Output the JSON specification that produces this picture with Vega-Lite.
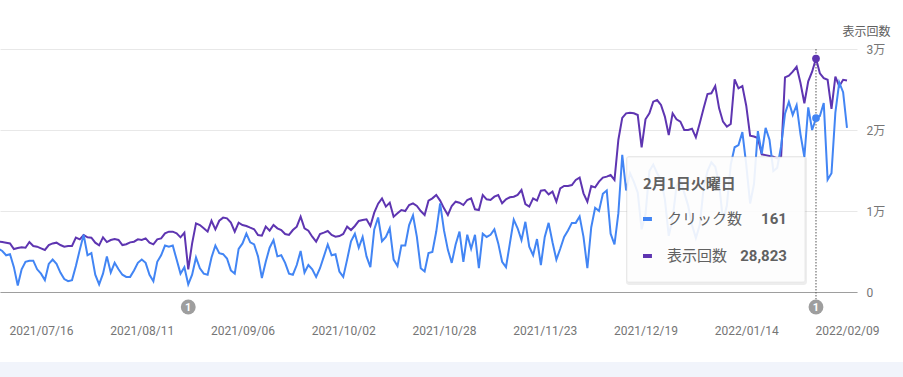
{
  "$schema": "https://vega.github.io/schema/vega-lite/v6.json",
  "width": 857,
  "height": 243,
  "autosize": {"type": "none"},
  "padding": {"left": 0, "top": 49, "right": 46, "bottom": 85},
  "background": "#ffffff",
  "config": {
    "view": {"stroke": null},
    "font": "Roboto",
    "axisX": {"grid": false, "ticks": false, "domain": true, "domainColor": "#9e9e9e", "domainWidth": 1, "labelColor": "#757575", "labelFontSize": 12, "labelFont": "Roboto", "labelPadding": 33, "labelOverlap": false, "labelFlush": false}
  },
  "datasets": {
    "series": [
      {"date":"2021-07-05","clicks":40,"impressions":6210},
      {"date":"2021-07-06","clicks":38,"impressions":6170},
      {"date":"2021-07-07","clicks":34,"impressions":6090},
      {"date":"2021-07-08","clicks":35,"impressions":6000},
      {"date":"2021-07-09","clicks":23,"impressions":5310},
      {"date":"2021-07-10","clicks":6,"impressions":5430},
      {"date":"2021-07-11","clicks":21,"impressions":5510},
      {"date":"2021-07-12","clicks":28,"impressions":5470},
      {"date":"2021-07-13","clicks":29,"impressions":6170},
      {"date":"2021-07-14","clicks":29,"impressions":5680},
      {"date":"2021-07-15","clicks":21,"impressions":5600},
      {"date":"2021-07-16","clicks":17,"impressions":5390},
      {"date":"2021-07-17","clicks":11,"impressions":5190},
      {"date":"2021-07-18","clicks":26,"impressions":5800},
      {"date":"2021-07-19","clicks":30,"impressions":6000},
      {"date":"2021-07-20","clicks":26,"impressions":6090},
      {"date":"2021-07-21","clicks":18,"impressions":5800},
      {"date":"2021-07-22","clicks":12,"impressions":5600},
      {"date":"2021-07-23","clicks":10,"impressions":5680},
      {"date":"2021-07-24","clicks":11,"impressions":5680},
      {"date":"2021-07-25","clicks":24,"impressions":6710},
      {"date":"2021-07-26","clicks":39,"impressions":6500},
      {"date":"2021-07-27","clicks":53,"impressions":7040},
      {"date":"2021-07-28","clicks":34,"impressions":6750},
      {"date":"2021-07-29","clicks":36,"impressions":6710},
      {"date":"2021-07-30","clicks":16,"impressions":6090},
      {"date":"2021-07-31","clicks":7,"impressions":5760},
      {"date":"2021-08-01","clicks":17,"impressions":6750},
      {"date":"2021-08-02","clicks":33,"impressions":6170},
      {"date":"2021-08-03","clicks":18,"impressions":6420},
      {"date":"2021-08-04","clicks":27,"impressions":6540},
      {"date":"2021-08-05","clicks":21,"impressions":6420},
      {"date":"2021-08-06","clicks":16,"impressions":5800},
      {"date":"2021-08-07","clicks":14,"impressions":5900},
      {"date":"2021-08-08","clicks":14,"impressions":6130},
      {"date":"2021-08-09","clicks":20,"impressions":6210},
      {"date":"2021-08-10","clicks":27,"impressions":6500},
      {"date":"2021-08-11","clicks":30,"impressions":6420},
      {"date":"2021-08-12","clicks":27,"impressions":6620},
      {"date":"2021-08-13","clicks":16,"impressions":6090},
      {"date":"2021-08-14","clicks":10,"impressions":5880},
      {"date":"2021-08-15","clicks":28,"impressions":6500},
      {"date":"2021-08-16","clicks":34,"impressions":6620},
      {"date":"2021-08-17","clicks":43,"impressions":7240},
      {"date":"2021-08-18","clicks":42,"impressions":7450},
      {"date":"2021-08-19","clicks":43,"impressions":7450},
      {"date":"2021-08-20","clicks":30,"impressions":7240},
      {"date":"2021-08-21","clicks":17,"impressions":6750},
      {"date":"2021-08-22","clicks":23,"impressions":7330},
      {"date":"2021-08-23","clicks":7,"impressions":2800},
      {"date":"2021-08-24","clicks":16,"impressions":6000},
      {"date":"2021-08-25","clicks":32,"impressions":8480},
      {"date":"2021-08-26","clicks":22,"impressions":8270},
      {"date":"2021-08-27","clicks":17,"impressions":7860},
      {"date":"2021-08-28","clicks":16,"impressions":7450},
      {"date":"2021-08-29","clicks":32,"impressions":8800},
      {"date":"2021-08-30","clicks":43,"impressions":7740},
      {"date":"2021-08-31","clicks":36,"impressions":8800},
      {"date":"2021-09-01","clicks":35,"impressions":9180},
      {"date":"2021-09-02","clicks":31,"impressions":9090},
      {"date":"2021-09-03","clicks":20,"impressions":8560},
      {"date":"2021-09-04","clicks":17,"impressions":7450},
      {"date":"2021-09-05","clicks":40,"impressions":8560},
      {"date":"2021-09-06","clicks":45,"impressions":8270},
      {"date":"2021-09-07","clicks":54,"impressions":8150},
      {"date":"2021-09-08","clicks":46,"impressions":7940},
      {"date":"2021-09-09","clicks":44,"impressions":7750},
      {"date":"2021-09-10","clicks":33,"impressions":7040},
      {"date":"2021-09-11","clicks":13,"impressions":6950},
      {"date":"2021-09-12","clicks":28,"impressions":8070},
      {"date":"2021-09-13","clicks":41,"impressions":7570},
      {"date":"2021-09-14","clicks":48,"impressions":8270},
      {"date":"2021-09-15","clicks":33,"impressions":7860},
      {"date":"2021-09-16","clicks":34,"impressions":7650},
      {"date":"2021-09-17","clicks":27,"impressions":7160},
      {"date":"2021-09-18","clicks":17,"impressions":7040},
      {"date":"2021-09-19","clicks":16,"impressions":7650},
      {"date":"2021-09-20","clicks":25,"impressions":8070},
      {"date":"2021-09-21","clicks":38,"impressions":9300},
      {"date":"2021-09-22","clicks":18,"impressions":7860},
      {"date":"2021-09-23","clicks":25,"impressions":7570},
      {"date":"2021-09-24","clicks":21,"impressions":6830},
      {"date":"2021-09-25","clicks":14,"impressions":6210},
      {"date":"2021-09-26","clicks":22,"impressions":7160},
      {"date":"2021-09-27","clicks":33,"impressions":7330},
      {"date":"2021-09-28","clicks":44,"impressions":7530},
      {"date":"2021-09-29","clicks":34,"impressions":7040},
      {"date":"2021-09-30","clicks":35,"impressions":6830},
      {"date":"2021-10-01","clicks":19,"impressions":6910},
      {"date":"2021-10-02","clicks":14,"impressions":7160},
      {"date":"2021-10-03","clicks":30,"impressions":8070},
      {"date":"2021-10-04","clicks":47,"impressions":7650},
      {"date":"2021-10-05","clicks":54,"impressions":8150},
      {"date":"2021-10-06","clicks":41,"impressions":8770},
      {"date":"2021-10-07","clicks":51,"impressions":8890},
      {"date":"2021-10-08","clicks":33,"impressions":8970},
      {"date":"2021-10-09","clicks":23,"impressions":8150},
      {"date":"2021-10-10","clicks":58,"impressions":9800},
      {"date":"2021-10-11","clicks":69,"impressions":10900},
      {"date":"2021-10-12","clicks":47,"impressions":11560},
      {"date":"2021-10-13","clicks":51,"impressions":10540},
      {"date":"2021-10-14","clicks":59,"impressions":11030},
      {"date":"2021-10-15","clicks":30,"impressions":9300},
      {"date":"2021-10-16","clicks":24,"impressions":9710},
      {"date":"2021-10-17","clicks":43,"impressions":10120},
      {"date":"2021-10-18","clicks":43,"impressions":10000},
      {"date":"2021-10-19","clicks":62,"impressions":10740},
      {"date":"2021-10-20","clicks":71,"impressions":10950},
      {"date":"2021-10-21","clicks":51,"impressions":10620},
      {"date":"2021-10-22","clicks":22,"impressions":10000},
      {"date":"2021-10-23","clicks":19,"impressions":9510},
      {"date":"2021-10-24","clicks":36,"impressions":11280},
      {"date":"2021-10-25","clicks":37,"impressions":11560},
      {"date":"2021-10-26","clicks":56,"impressions":11980},
      {"date":"2021-10-27","clicks":82,"impressions":11280},
      {"date":"2021-10-28","clicks":57,"impressions":10330},
      {"date":"2021-10-29","clicks":39,"impressions":9510},
      {"date":"2021-10-30","clicks":27,"impressions":10620},
      {"date":"2021-10-31","clicks":44,"impressions":11150},
      {"date":"2021-11-01","clicks":56,"impressions":11030},
      {"date":"2021-11-02","clicks":28,"impressions":10740},
      {"date":"2021-11-03","clicks":53,"impressions":11360},
      {"date":"2021-11-04","clicks":40,"impressions":11560},
      {"date":"2021-11-05","clicks":53,"impressions":10210},
      {"date":"2021-11-06","clicks":22,"impressions":10120},
      {"date":"2021-11-07","clicks":54,"impressions":11980},
      {"date":"2021-11-08","clicks":51,"impressions":11440},
      {"date":"2021-11-09","clicks":53,"impressions":11360},
      {"date":"2021-11-10","clicks":58,"impressions":11770},
      {"date":"2021-11-11","clicks":45,"impressions":11980},
      {"date":"2021-11-12","clicks":28,"impressions":10950},
      {"date":"2021-11-13","clicks":23,"impressions":11440},
      {"date":"2021-11-14","clicks":45,"impressions":11690},
      {"date":"2021-11-15","clicks":67,"impressions":11770},
      {"date":"2021-11-16","clicks":59,"impressions":11980},
      {"date":"2021-11-17","clicks":48,"impressions":12590},
      {"date":"2021-11-18","clicks":65,"impressions":10860},
      {"date":"2021-11-19","clicks":42,"impressions":10540},
      {"date":"2021-11-20","clicks":34,"impressions":11560},
      {"date":"2021-11-21","clicks":49,"impressions":11280},
      {"date":"2021-11-22","clicks":25,"impressions":12510},
      {"date":"2021-11-23","clicks":51,"impressions":12590},
      {"date":"2021-11-24","clicks":64,"impressions":12060},
      {"date":"2021-11-25","clicks":46,"impressions":12390},
      {"date":"2021-11-26","clicks":30,"impressions":11150},
      {"date":"2021-11-27","clicks":40,"impressions":12800},
      {"date":"2021-11-28","clicks":51,"impressions":13090},
      {"date":"2021-11-29","clicks":57,"impressions":13090},
      {"date":"2021-11-30","clicks":64,"impressions":13210},
      {"date":"2021-12-01","clicks":64,"impressions":13830},
      {"date":"2021-12-02","clicks":70,"impressions":14120},
      {"date":"2021-12-03","clicks":51,"impressions":12180},
      {"date":"2021-12-04","clicks":22,"impressions":11150},
      {"date":"2021-12-05","clicks":60,"impressions":13090},
      {"date":"2021-12-06","clicks":78,"impressions":12920},
      {"date":"2021-12-07","clicks":75,"impressions":13620},
      {"date":"2021-12-08","clicks":91,"impressions":14120},
      {"date":"2021-12-09","clicks":94,"impressions":14240},
      {"date":"2021-12-10","clicks":54,"impressions":14440},
      {"date":"2021-12-11","clicks":44,"impressions":13830},
      {"date":"2021-12-12","clicks":73,"impressions":18800},
      {"date":"2021-12-13","clicks":127,"impressions":21500},
      {"date":"2021-12-14","clicks":94,"impressions":22060},
      {"date":"2021-12-15","clicks":110,"impressions":22140},
      {"date":"2021-12-16","clicks":102,"impressions":22060},
      {"date":"2021-12-17","clicks":92,"impressions":21850},
      {"date":"2021-12-18","clicks":58,"impressions":17860},
      {"date":"2021-12-19","clicks":72,"impressions":21320},
      {"date":"2021-12-20","clicks":112,"impressions":22060},
      {"date":"2021-12-21","clicks":118,"impressions":23500},
      {"date":"2021-12-22","clicks":110,"impressions":23700},
      {"date":"2021-12-23","clicks":104,"impressions":23090},
      {"date":"2021-12-24","clicks":86,"impressions":21650},
      {"date":"2021-12-25","clicks":52,"impressions":19380},
      {"date":"2021-12-26","clicks":68,"impressions":22060},
      {"date":"2021-12-27","clicks":98,"impressions":21320},
      {"date":"2021-12-28","clicks":104,"impressions":21030},
      {"date":"2021-12-29","clicks":92,"impressions":20000},
      {"date":"2021-12-30","clicks":80,"impressions":20000},
      {"date":"2021-12-31","clicks":62,"impressions":20160},
      {"date":"2022-01-01","clicks":50,"impressions":19090},
      {"date":"2022-01-02","clicks":62,"impressions":20820},
      {"date":"2022-01-03","clicks":96,"impressions":22670},
      {"date":"2022-01-04","clicks":112,"impressions":24440},
      {"date":"2022-01-05","clicks":120,"impressions":24530},
      {"date":"2022-01-06","clicks":116,"impressions":25430},
      {"date":"2022-01-07","clicks":100,"impressions":22670},
      {"date":"2022-01-08","clicks":66,"impressions":21030},
      {"date":"2022-01-09","clicks":80,"impressions":20410},
      {"date":"2022-01-10","clicks":118,"impressions":20740},
      {"date":"2022-01-11","clicks":134,"impressions":26260},
      {"date":"2022-01-12","clicks":136,"impressions":25140},
      {"date":"2022-01-13","clicks":148,"impressions":25430},
      {"date":"2022-01-14","clicks":118,"impressions":23000},
      {"date":"2022-01-15","clicks":82,"impressions":19300},
      {"date":"2022-01-16","clicks":100,"impressions":19200},
      {"date":"2022-01-17","clicks":149,"impressions":19000},
      {"date":"2022-01-18","clicks":128,"impressions":17000},
      {"date":"2022-01-19","clicks":152,"impressions":16900},
      {"date":"2022-01-20","clicks":141,"impressions":16800},
      {"date":"2022-01-21","clicks":112,"impressions":16700},
      {"date":"2022-01-22","clicks":115,"impressions":16500},
      {"date":"2022-01-23","clicks":135,"impressions":16700},
      {"date":"2022-01-24","clicks":165,"impressions":26500},
      {"date":"2022-01-25","clicks":176,"impressions":26700},
      {"date":"2022-01-26","clicks":164,"impressions":27200},
      {"date":"2022-01-27","clicks":173,"impressions":27800},
      {"date":"2022-01-28","clicks":146,"impressions":25800},
      {"date":"2022-01-29","clicks":125,"impressions":23300},
      {"date":"2022-01-30","clicks":171,"impressions":26000},
      {"date":"2022-01-31","clicks":150,"impressions":27200},
      {"date":"2022-02-01","clicks":161,"impressions":28823},
      {"date":"2022-02-02","clicks":163,"impressions":27000},
      {"date":"2022-02-03","clicks":175,"impressions":26400},
      {"date":"2022-02-04","clicks":104,"impressions":26200},
      {"date":"2022-02-05","clicks":110,"impressions":22600},
      {"date":"2022-02-06","clicks":166,"impressions":26600},
      {"date":"2022-02-07","clicks":194,"impressions":25400},
      {"date":"2022-02-08","clicks":185,"impressions":26200},
      {"date":"2022-02-09","clicks":152,"impressions":26100}
    ],
    "hover": [
      {"date":"2022-02-01","label":"2月1日火曜日","clicks":161,"impressions":28823}
    ],
    "notes": [
      {"date":"2021-08-23","note":"1"},
      {"date":"2022-02-01","note":"1"}
    ]
  },
  "resolve": {"scale": {"y": "independent"}},
  "layer": [
    {
      "data": {"name": "series"},
      "mark": {"type": "line", "color": "#5e35b1", "strokeWidth": 2, "clip": true},
      "encoding": {
        "x": {
          "field": "date", "type": "temporal", "title": null,
          "scale": {"type":"utc","domain":[1625479200000,1644588000000]},
          "axis": {
            "title": null, "format": "%Y/%m/%d",
            "values": [1626393600000,1628640000000,1630886400000,1633132800000,1635379200000,1637625600000,1639872000000,1642118400000,1644364800000],
            "grid": false, "ticks": false, "domain": true,
            "domainColor": "#9e9e9e", "domainWidth": 1,
            "labelColor": "#757575", "labelFontSize": 12, "labelFont": "Roboto",
            "labelPadding": 33, "labelOverlap": false, "labelFlush": false
          }
        },
        "y": {
          "field": "impressions", "type": "quantitative",
          "scale": {"domain": [0, 30000], "nice": false},
          "axis": {
            "orient": "right", "values": [0, 10000, 20000, 30000],
            "labelExpr": "datum.value == 0 ? '0' : (datum.value / 10000) + '万'",
            "grid": true, "gridColor": "#e8e8e8", "ticks": false, "domain": false,
            "labelColor": "#757575", "labelFontSize": 12, "labelFont": "Roboto, Noto Sans CJK JP",
            "labelPadding": 9, "labelAlign": "left",
            "title": "表示回数", "titleAngle": 0, "titleX": 9, "titleY": -18,
            "titleAlign": "center", "titleBaseline": "middle",
            "titleFontWeight": "normal", "titleFontSize": 12, "titleColor": "#616161",
            "titleFont": "Noto Sans CJK JP"
          }
        }
      }
    },
    {
      "data": {"name": "hover"},
      "mark": {"type": "rect", "color": "#f1f4fb"},
      "encoding": {
        "x": {"datum": 1622505600000, "type": "temporal", "title": null},
        "x2": {"datum": 1647302400000},
        "y": {"datum": -8640, "type": "quantitative", "scale": {"domain": [0, 30000], "nice": false}, "axis": null},
        "y2": {"datum": -12000}
      }
    },
    {
      "data": {"name": "series"},
      "mark": {"type": "line", "color": "#4285f4", "strokeWidth": 2, "clip": true},
      "encoding": {
        "x": {"field": "date", "type": "temporal", "title": null},
        "y": {"field": "clicks", "type": "quantitative", "scale": {"domain": [0, 225], "nice": false}, "axis": null}
      }
    },
    {
      "data": {"name": "hover"},
      "mark": {"type": "rule", "color": "#555555", "strokeWidth": 1, "strokeDash": [1.5, 1.5]},
      "encoding": {
        "x": {"field": "date", "type": "temporal", "title": null},
        "y": {"datum": 30000, "type": "quantitative", "scale": {"domain": [0, 30000], "nice": false}, "axis": null},
        "y2": {"datum": -900}
      }
    },
    {
      "data": {"name": "hover"},
      "mark": {"type": "rect", "color": "#000000", "opacity": 0.07, "cornerRadius": 3},
      "encoding": {
        "x": {"datum": 1639436400000, "type": "temporal", "title": null},
        "x2": {"datum": 1643472000000},
        "y": {"datum": 16790, "type": "quantitative", "scale": {"domain": [0, 30000], "nice": false}, "axis": null},
        "y2": {"datum": 860}
      }
    },
    {
      "data": {"name": "hover"},
      "mark": {"type": "rect", "color": "#ffffff", "opacity": 0.9, "cornerRadius": 2, "stroke": "#e3e3e3", "strokeWidth": 0.6},
      "encoding": {
        "x": {"datum": 1639459020000, "type": "temporal", "title": null},
        "x2": {"datum": 1643427360000},
        "y": {"datum": 16667, "type": "quantitative", "scale": {"domain": [0, 30000], "nice": false}, "axis": null},
        "y2": {"datum": 1235}
      }
    },
    {
      "data": {"name": "hover"},
      "mark": {"type": "text", "align": "left", "baseline": "middle", "font": "Noto Sans CJK JP", "fontSize": 15, "fontWeight": "bold", "color": "#616161"},
      "encoding": {
        "x": {"datum": 1639815840000, "type": "temporal", "title": null},
        "y": {"datum": 13333, "type": "quantitative", "scale": {"domain": [0, 30000], "nice": false}, "axis": null},
        "text": {"field": "label"}
      }
    },
    {
      "data": {"name": "hover"},
      "mark": {"type": "rule", "color": "#4285f4", "strokeWidth": 4},
      "encoding": {
        "x": {"datum": 1639815840000, "type": "temporal", "title": null},
        "x2": {"datum": 1640016000000},
        "y": {"datum": 9012, "type": "quantitative", "scale": {"domain": [0, 30000], "nice": false}, "axis": null}
      }
    },
    {
      "data": {"name": "hover"},
      "mark": {"type": "rule", "color": "#5e35b1", "strokeWidth": 4},
      "encoding": {
        "x": {"datum": 1639815840000, "type": "temporal", "title": null},
        "x2": {"datum": 1640016000000},
        "y": {"datum": 4444, "type": "quantitative", "scale": {"domain": [0, 30000], "nice": false}, "axis": null}
      }
    },
    {
      "data": {"name": "hover"},
      "mark": {"type": "text", "text": "クリック数", "align": "left", "baseline": "middle", "font": "Noto Sans CJK JP", "fontSize": 15, "color": "#616161"},
      "encoding": {
        "x": {"datum": 1640351520000, "type": "temporal", "title": null},
        "y": {"datum": 9012, "type": "quantitative", "scale": {"domain": [0, 30000], "nice": false}, "axis": null}
      }
    },
    {
      "data": {"name": "hover"},
      "mark": {"type": "text", "text": "表示回数", "align": "left", "baseline": "middle", "font": "Noto Sans CJK JP", "fontSize": 15, "color": "#616161"},
      "encoding": {
        "x": {"datum": 1640351520000, "type": "temporal", "title": null},
        "y": {"datum": 4444, "type": "quantitative", "scale": {"domain": [0, 30000], "nice": false}, "axis": null}
      }
    },
    {
      "data": {"name": "hover"},
      "mark": {"type": "text", "align": "right", "baseline": "middle", "font": "Roboto", "fontSize": 15, "fontWeight": "bold", "color": "#616161"},
      "encoding": {
        "x": {"datum": 1643025600000, "type": "temporal", "title": null},
        "y": {"datum": 9012, "type": "quantitative", "scale": {"domain": [0, 30000], "nice": false}, "axis": null},
        "text": {"field": "clicks", "type": "quantitative", "format": ","}
      }
    },
    {
      "data": {"name": "hover"},
      "mark": {"type": "text", "align": "right", "baseline": "middle", "font": "Roboto", "fontSize": 15, "fontWeight": "bold", "color": "#616161"},
      "encoding": {
        "x": {"datum": 1643025600000, "type": "temporal", "title": null},
        "y": {"datum": 4444, "type": "quantitative", "scale": {"domain": [0, 30000], "nice": false}, "axis": null},
        "text": {"field": "impressions", "type": "quantitative", "format": ","}
      }
    },
    {
      "data": {"name": "hover"},
      "mark": {"type": "circle", "color": "#5e35b1", "opacity": 1, "size": 60},
      "encoding": {
        "x": {"field": "date", "type": "temporal", "title": null},
        "y": {"field": "impressions", "type": "quantitative", "scale": {"domain": [0, 30000], "nice": false}, "axis": null}
      }
    },
    {
      "data": {"name": "hover"},
      "mark": {"type": "circle", "color": "#4285f4", "opacity": 1, "size": 60},
      "encoding": {
        "x": {"field": "date", "type": "temporal", "title": null},
        "y": {"field": "clicks", "type": "quantitative", "scale": {"domain": [0, 225], "nice": false}, "axis": null}
      }
    },
    {
      "data": {"name": "notes"},
      "mark": {"type": "circle", "color": "#9e9e9e", "opacity": 1, "size": 220},
      "encoding": {
        "x": {"field": "date", "type": "temporal", "title": null},
        "y": {"datum": -1852, "type": "quantitative", "scale": {"domain": [0, 30000], "nice": false}, "axis": null}
      }
    },
    {
      "data": {"name": "notes"},
      "mark": {"type": "text", "color": "#ffffff", "fontSize": 11, "fontWeight": "bold", "font": "Roboto", "baseline": "middle", "align": "center", "dy": 0.5},
      "encoding": {
        "x": {"field": "date", "type": "temporal", "title": null},
        "y": {"datum": -1852, "type": "quantitative", "scale": {"domain": [0, 30000], "nice": false}, "axis": null},
        "text": {"field": "note"}
      }
    }
  ]
}
